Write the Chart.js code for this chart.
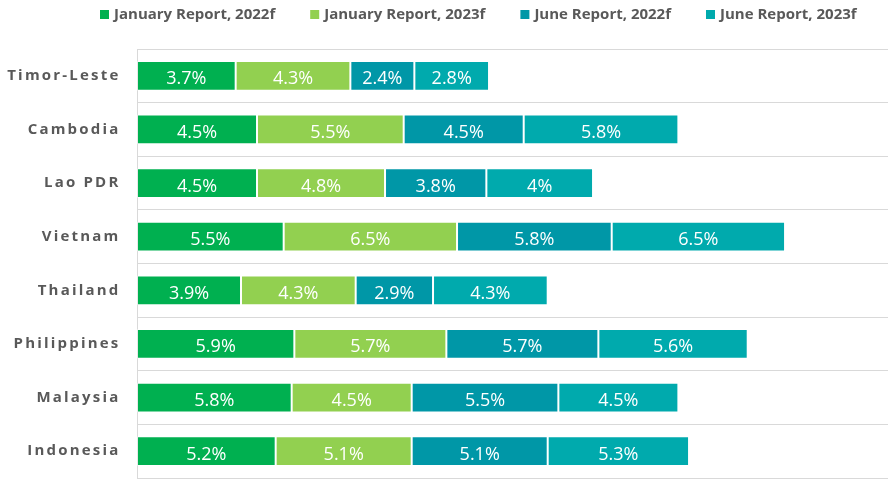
<!DOCTYPE html>
<html>
<head>
<meta charset="utf-8">
<script src="https://cdn.jsdelivr.net/npm/chart.js@4.4.1/dist/chart.umd.min.js"></script>
<style>
    html, body { margin: 0; padding: 0; background: #ffffff; }
    #wrap { width: 888px; height: 479px; position: relative; }
</style>
</head>
<body>
<div id="wrap"><canvas id="growth-chart"></canvas></div>
<script>
const countries = [
    "Timor-Leste",
    "Cambodia",
    "Lao PDR",
    "Vietnam",
    "Thailand",
    "Philippines",
    "Malaysia",
    "Indonesia",
];
const seriesNames = [
    "January Report, 2022f",
    "January Report, 2023f",
    "June Report, 2022f",
    "June Report, 2023f",
];
const jan2022 = [3.7, 4.5, 4.5, 5.5, 3.9, 5.9, 5.8, 5.2];
const jan2023 = [4.3, 5.5, 4.8, 6.5, 4.3, 5.7, 4.5, 5.1];
const jun2022 = [2.4, 4.5, 3.8, 5.8, 2.9, 5.7, 5.5, 5.1];
const jun2023 = [2.8, 5.8, 4, 6.5, 4.3, 5.6, 4.5, 5.3];

(function () {
    "use strict";

    const colors = ["#00B050", "#92D050", "#0097A7", "#00AAAD"];
    const values = [jan2022, jan2023, jun2022, jun2023];
    const textGrey = "#595959";

    // spaced-out country names on the category axis
    const letterSpacing = {
        id: "letterSpacing",
        beforeDraw(chart) {
            chart.ctx.letterSpacing = "2.2px";
        },
        beforeDatasetsDraw(chart) {
            chart.ctx.letterSpacing = "0px";
        },
    };

    // white value labels in the middle of each segment
    const valueLabels = {
        id: "valueLabels",
        afterDatasetsDraw(chart) {
            const ctx = chart.ctx;
            ctx.save();
            ctx.font = "18px 'Open Sans'";
            ctx.fillStyle = "#ffffff";
            ctx.textAlign = "center";
            ctx.textBaseline = "alphabetic";
            chart.data.datasets.forEach((ds, i) => {
                chart.getDatasetMeta(i).data.forEach((bar, j) => {
                    const cx = (bar.x + bar.base) / 2;
                    ctx.fillText(ds.data[j] + "%", cx, bar.y + 8.5);
                });
            });
            ctx.restore();
        },
    };

    // legend row across the top
    const topLegend = {
        id: "topLegend",
        afterDraw(chart) {
            const ctx = chart.ctx;
            ctx.save();
            ctx.font = "bold 15px 'Open Sans'";
            ctx.textBaseline = "alphabetic";
            ctx.textAlign = "left";
            let x = 100;
            chart.data.datasets.forEach((ds) => {
                ctx.fillStyle = ds.backgroundColor;
                ctx.fillRect(x, 10, 9, 9);
                ctx.fillStyle = textGrey;
                ctx.fillText(ds.label, x + 14, 18.5);
                x += 14 + ctx.measureText(ds.label).width + 35;
            });
            ctx.restore();
        },
    };

    new Chart(document.getElementById("growth-chart"), {
        type: "bar",
        data: {
            labels: countries,
            datasets: seriesNames.map((name, i) => ({
                label: name,
                data: values[i],
                backgroundColor: colors[i],
                borderColor: "rgba(255,255,255,0.4)",
                borderWidth: 1,
                borderSkipped: false,
                barPercentage: 0.555,
                categoryPercentage: 1,
            })),
        },
        options: {
            indexAxis: "y",
            responsive: true,
            maintainAspectRatio: false,
            animation: false,
            layout: {
                padding: { top: 49, bottom: 1, left: 0, right: 0 },
            },
            plugins: {
                legend: { display: false },
                tooltip: { enabled: false },
            },
            scales: {
                x: {
                    stacked: true,
                    display: false,
                    min: 0,
                    max: 28.16,
                },
                y: {
                    stacked: true,
                    afterFit: (scale) => {
                        scale.width = 137;
                        scale.paddingTop = 0;
                        scale.paddingBottom = 0;
                    },
                    ticks: {
                        padding: 16.5,
                        color: textGrey,
                        font: {
                            family: "'Open Sans'",
                            size: 15,
                            weight: "bold",
                        },
                    },
                    grid: {
                        color: "#d9d9d9",
                        lineWidth: 1,
                        drawTicks: false,
                    },
                    border: {
                        display: true,
                        color: "#d9d9d9",
                        width: 1,
                    },
                },
            },
        },
        plugins: [letterSpacing, valueLabels, topLegend],
    });
})();
</script>
</body>
</html>
